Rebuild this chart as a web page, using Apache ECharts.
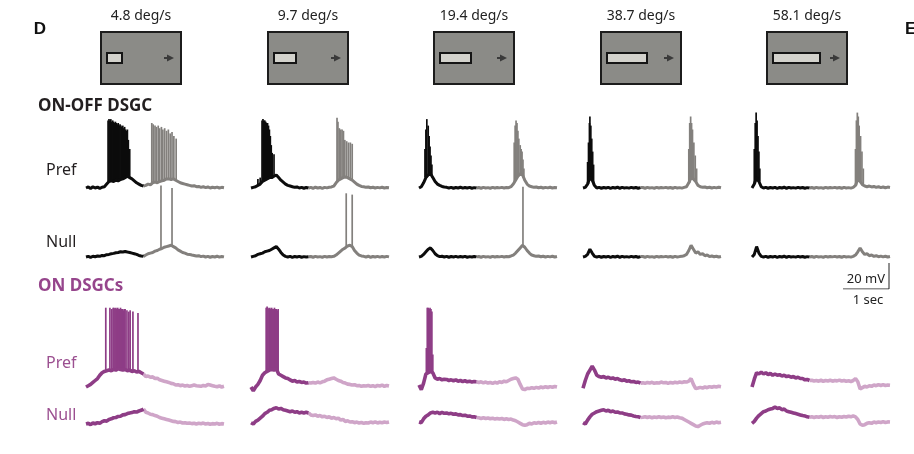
<!DOCTYPE html>
<html>
<head>
<meta charset="utf-8">
<script src="https://cdn.jsdelivr.net/npm/echarts@6/dist/echarts.min.js"></script>
<style>
html, body { margin: 0; background: #fff; }
#chart { width: 914px; height: 454px; }
</style>
</head>
<body>
<div id="chart"></div>
<script>
// stimulus speeds (column titles)
const speeds = ["4.8 deg/s", "9.7 deg/s", "19.4 deg/s", "38.7 deg/s", "58.1 deg/s"];
const groupTitles = ["ON-OFF DSGC", "ON DSGCs"];
const rowLabels = ["Pref", "Null", "Pref", "Null"];

// membrane potential, mV above rest, sampled every 0.05 s from 0 to 3 s
// first 26 samples = first half of the sweep (dark), rest = second half (light)
const tStep = 0.05;
const splitIdx = 25;

// ON-OFF DSGC, preferred direction
const onoffPref1 = [0,0.8,-0.4,0.9,0,0.7,-0.3,0.6,1,3, 5,5.5,5,6,5.5,6.5,7,8,9,8, 7,5.5,4,3,2,1.5, 2,3,2.5,4,4.5,4,5,5.5,6,7, 7,6.5,7,6,5,4,3.5,3,2.5,2, 1.5,1.8,1,1.2,0.5,1,0.3,0.8,0,0.6, 0.2,0.7,0,0.5,0.2];
const onoffPref2 = [0,0.5,1,2,3,5,6,7,8,8, 9,10,8,6,4.5,3,2,1.5,1,0.5, 0.8,0,0.5,-0.2,0.4,0, 0.5,-0.2,0.6,0,0.4,-0.3,0.5,0.1,0.6,0.8, 1.5,4,6,7,8,8.5,8,7,6,4.5, 3,2,1.2,1,0.5,0.8,0.2,0.6,0,0.5, 0.1,0.6,0,0.4,0.2];
const onoffPref3 = [0,1,4,8,10,11,8,5,3,2, 1.2,0.8,0.5,0,0.5,-0.2,0.4,0,0.6,-0.1, 0.4,0,0.5,-0.2,0.3,0, 0.4,-0.2,0.5,0,0.3,-0.2,0.5,0,0.4,0.1, 0.5,0,0.4,0.2,1,3,6,9,11,10, 6,3,1.5,1,0.5,0.8,0.2,0.6,0,0.5, 0.1,0.6,0,0.4,0.2];
const onoffPref4 = [0,0.5,3,8,6,2,0,0.5,-0.2,0.4, 0,0.5,-0.3,0.4,0,0.6,-0.2,0.5,0,0.3, -0.1,0.5,0,0.4,-0.2,0.3, 0.4,-0.2,0.5,0,0.3,-0.2,0.5,0,0.4,0.1, 0.5,0,0.4,-0.2,0.5,0,0.3,-0.1,0.5,1, 4,8,7,5,2,1,0.5,0.8,0.2,0.6, 0,0.5,0.1,0.6,0.2];
const onoffPref5 = [0,3,8,5,1,0,0.5,-0.2,0.4,0, 0.5,-0.3,0.4,0,0.6,-0.2,0.5,0,0.3,-0.1, 0.5,0,0.4,-0.2,0.3,0, 0.4,-0.2,0.5,0,0.3,-0.2,0.5,0,0.4,0.1, 0.5,0,0.4,-0.2,0.5,0,0.3,-0.1,0.5,2, 7,5,2.5,1.5,1,1.5,0.8,1.2,0.5,1, 0.3,0.8,0.2,0.7,0.4];

// ON-OFF DSGC, null direction
const onoffNull1 = [0,0.5,-0.3,0.6,0.2,0.8,0.5,1.2,1,1.8, 2,2.5,2.8,3.3,3.5,4,3.8,4.2,3.8,3.5, 3,2.5,2,1.2,0.8,0.5, 1.5,2.5,3,3.5,4.5,5,6,6.5,7.5,8, 8.5,9,8,7,5.5,4.5,3.5,3,2.2,2, 1.5,1.2,0.8,1,0.3,0.7,0,0.5,-0.2,0.4, 0,0.6,-0.1,0.4,0.1];
const onoffNull2 = [0,0.5,1,2,2.5,3,4,4.5,5,6, 7,8,6,3.5,1.5,0.5,0,0.5,-0.3,0.4, 0,0.5,-0.2,0.3,0,0.2, 0.4,-0.2,0.5,0,0.3,-0.2,0.5,0,0.4,0.2, 0.5,1.5,3,4.5,6,7,8.5,9,8,5, 3,1.5,0.8,0.5,0,0.6,-0.2,0.4,0,0.5, -0.1,0.4,0,0.5,0.1];
const onoffNull3 = [0,0.5,2,4,6,7,5,2.5,1,0.3, 0.6,0,0.5,-0.2,0.4,0,0.5,-0.1,0.4,0, 0.5,-0.2,0.3,0,0.4,0.1, 0.4,-0.2,0.5,0,0.3,-0.2,0.5,0,0.4,0.1, 0.5,0,0.4,0.2,0.8,1.5,3,5,7,9, 7.5,5,3,1.5,1,0.5,0.8,0.2,0.6,0, 0.5,0.1,0.6,0,0.4];
const onoffNull4 = [0,0.5,2,6,3,0.5,0,0.5,-0.2,0.4, 0,0.5,-0.3,0.4,0,0.6,-0.2,0.5,0,0.3, -0.1,0.5,0,0.4,-0.2,0.3, 0.4,-0.2,0.5,0,0.3,-0.2,0.5,0,0.4,0.1, 0.5,0,0.4,-0.2,0.5,0,0.3,0.5,1,2, 5,9,6,3,4,2,2.5,1,1.5,0.3, 0.8,0.2,0.6,0,0.4];
const onoffNull5 = [0,2,8,3,0.5,0,0.5,-0.2,0.4,0, 0.5,-0.3,0.4,0,0.6,-0.2,0.5,0,0.3,-0.1, 0.5,0,0.4,-0.2,0.3,0, 0.4,-0.2,0.5,0,0.3,-0.2,0.5,0,0.4,0.1, 0.5,0,0.4,-0.2,0.5,0,0.3,-0.1,0.5,1.5, 4,7,4,2,2.5,1,1.5,0.5,1,0.2, 0.7,0.1,0.6,0,0.4];

// ON DSGCs, preferred direction
const onPref1 = [0,1,2,3.5,5,6.5,9,11,12,12.5, 13,12.5,13.5,13,14,13.5,13,13.5,12.5,13, 12,12.5,11.5,12,11,10, 8,8.5,7.5,7.8,6.5,6.8,5.5,5,4.5,4, 3.5,2.8,2.5,1.5,1.8,1,1.5,0.8,1.2,0.5, 1,1.5,1,0.8,0.5,1.2,0.8,2,1.5,1, 0.5,0.2,0.8,0,0.5];
const onPref2 = [0,-3,0,2,5,9,11,12,13,13.5, 13,14,10,9,8,7,6.5,5.5,4.5,5, 3.8,4.2,3.5,3.8,3,3.3, 3,3.5,3,3.8,3.2,4,4.5,5.5,6,6.5, 7,6,5,4.5,3.5,3,2.2,2,1.5,1.8, 1,1.2,0.5,1,0.8,1.2,0.5,1,0.3,1.2, 0.8,1.5,0.5,1.2,0.8];
const onPref3 = [1.5,-2,3,10,11,12,11,7,6,6.5, 5.5,6,5.8,5,5.5,4.8,5.5,4.5,5,4.2, 4.8,4,4.5,3.8,4.2,4, 3.5,4,3.2,3.8,3,3.5,2.8,3.6,3,4, 3.5,4.5,4,5,6,6.5,7,6,2,-1.5, -2,-1,-1.2,-0.5,-1,-0.3,-0.8,0,-0.5,0.2, -0.4,0.3,-0.2,0.4,0];
const onPref4 = [-1,5,10,13,16,13,9,8,7.5,8, 7,7.5,6.5,7,6,6.5,5.5,5,5.5,4.5, 4.8,4,4.2,3.5,3.8,3, 3.2,2.8,3.5,3,3.6,2.8,3.3,3,3.8,3.2, 3.5,2.8,3.5,3,3.6,3.2,3.8,3.4,4,3.8, 4.5,6.5,2,-1.2,-0.8,-0.3,-0.8,0,-0.5,0.3, -0.2,0.4,0,0.5,0.2];
const onPref5 = [0,6,11,10,11.5,10,11,9.5,10.5,9, 10,9,9.5,8.5,9,8,8.5,7.5,8,7, 7.5,6.5,6.5,5.5,5.8,5, 5.2,4.6,5,4.5,5.2,4.4,5,4.6,5.2,4.5, 5,4.7,5.3,4.6,5,4.4,4.8,4.2,5,6.5, 4,-1.5,-0.5,0.5,0,1,0.5,1.5,1,1.8, 1.2,1.8,1.2,1.6,1.4];

// ON DSGCs, null direction
const onNull1 = [0,0.5,-0.5,0.8,0.2,1,0.5,1.8,2.5,2.2, 3.5,4,4.8,5,5.8,6,7,7.2,8,8.5, 8.8,9.5,9.2,10,10.5,11.5, 9,8.5,7.5,7.2,6.5,6,5,4.5,4,3.5, 3,2.5,2,1.8,1.2,1.5,0.8,1,0.5,0.8, 0.3,0.6,0,0.5,0.2,0.7,0,0.4,-0.2,0.3, 0,0.5,-0.2,0.3,0];
const onNull2 = [1,0,2,3,4.5,6,8,9,10.5,11, 12,12.5,11.5,12,11,10.5,10,9.5,10,9, 9.5,8.5,9,8.5,9,8.5, 7,6.5,7,6,6.5,5.5,6,5,5.5,4.5, 5,4,4.5,3,3.5,2,2.5,1.5,1.8,1, 1.5,0.8,1.2,0.5,1,0.8,1.5,1,1.6,0.8, 1.4,1,1.5,1.2,1.6];
const onNull3 = [1.5,1,4,6,7,8.5,9,8.5,9,8, 9,8.2,8.5,7.8,8.2,7.5,7.8,7,7.2,6.5, 6.8,6,6.2,5.5,5.5,5, 4.8,4.3,4.8,4.2,4.6,4,4.5,3.8,4.3,3.8, 4.2,3.5,4,3.5,3.8,3,2.5,1.5,0.5,-0.5, -1,-0.5,0.5,0,1,0.5,1.2,0.6,1.3,0.8, 1.5,1,1.6,1,1.5];
const onNull4 = [1,0,3,5.5,7.5,8.5,9.5,10,10.5,11, 10,10.5,9.5,10,9,9.2,8.5,8.5,7.8,7.5, 7,6.8,6.2,5.8,5.5,5, 5.2,5.6,5,5.5,4.8,5.4,5,5.6,5,5.4, 4.8,5.3,5,5.5,5,5.4,4.8,4.5,3.5,2.5, 1.5,0.5,-0.5,-1.5,-2,-1,0,0.5,1,0.6, 1.3,0.8,1.5,1,1.3];
const onNull5 = [0.5,2,4.5,6.5,8,9.5,10,11,11.5,12, 13,12,12.5,11,11.5,10,9.5,9,8.5,8, 7.5,7,6.5,6.2,5.5,5.2, 5.5,5,5.6,5.2,5.8,5,5.5,5.2,5.8,5.3, 5.7,5,5.6,5.2,5.8,5.4,6,5.5,6.2,5.5, 3.5,0,-1,-0.5,0.5,1,0.5,1.5,1,1.6, 1.2,1.8,1.2,1.6,1.5];

// action potentials: [time s, peak mV]
const onoffPref1Spikes = [[0.48,52],[0.5,53],[0.52,52],[0.54,53],[0.56,51],[0.58,52],[0.6,51],[0.62,50],[0.64,51],[0.66,50],[0.68,49],[0.7,50],[0.72,48],[0.74,49],[0.76,48],[0.78,47],[0.8,48],[0.82,46],[0.84,47],[0.86,45],[0.88,44],[0.9,45],[0.92,37],[0.95,30],
  [1.43,50],[1.46,49],[1.5,48],[1.53,47],[1.57,48],[1.6,46],[1.64,47],[1.67,45],[1.71,46],[1.75,44],[1.79,45],[1.83,42],[1.87,43],[1.91,40],[1.96,38]];
const onoffPref2Spikes = [[0.15,7],[0.2,8],[0.24,52],[0.26,53],[0.28,52],[0.3,52],[0.32,51],[0.34,50],[0.36,50],[0.38,48],[0.4,45],[0.42,40],[0.44,33],[0.46,27],[0.5,26],
  [1.87,54],[1.89,51],[1.92,46],[1.95,45],[1.98,45],[2.01,44],[2.04,37],[2.08,36],[2.12,35],[2.16,35],[2.2,34]];
const onoffPref3Spikes = [[0.13,30],[0.15,45],[0.17,53],[0.2,48],[0.22,40],[0.24,32],[0.26,25],[0.28,18],
  [2.07,35],[2.09,48],[2.11,52],[2.13,50],[2.15,44],[2.17,38],[2.2,33],[2.22,30],[2.24,28],[2.26,22],[2.28,15]];
const onoffPref4Spikes = [[0.1,20],[0.12,35],[0.14,50],[0.15,55],[0.17,48],[0.19,38],[0.21,28],[0.23,18],
  [2.3,30],[2.32,50],[2.34,55],[2.36,50],[2.38,45],[2.41,35],[2.44,25],[2.47,15]];
const onoffPref5Spikes = [[0.05,30],[0.07,50],[0.09,58],[0.11,52],[0.13,40],[0.15,28],[0.17,15],
  [2.25,30],[2.27,52],[2.29,58],[2.31,55],[2.33,48],[2.36,40],[2.39,28],[2.42,15]];
const onoffNull1Spikes = [[1.63,55],[1.87,53]];
const onoffNull2Spikes = [[2.07,49],[2.2,48]];
const onoffNull3Spikes = [[2.26,54]];
const onPref1Spikes = [[0.43,61],[0.52,61],[0.56,60],[0.59,61],[0.61,61],[0.63,60],[0.65,61],[0.67,60],[0.69,61],[0.71,60],[0.73,60],[0.75,61],[0.77,60],[0.79,60],[0.81,59],[0.83,60],[0.85,60],[0.89,59],[0.93,58],[0.96,59],[1.02,58],[1.13,57]];
const onPref2Spikes = [[0.33,61],[0.35,62],[0.37,61],[0.39,60],[0.41,61],[0.43,60],[0.45,61],[0.47,60],[0.49,60],[0.51,61],[0.53,60],[0.55,60],[0.57,59],[0.59,60]];
const onPref3Spikes = [[0.16,30],[0.18,61],[0.2,61],[0.22,60],[0.24,61],[0.26,60],[0.28,58],[0.3,25]];

// scale bar
const scaleSec = 1;
const scaleMv = 20;

const traces = [
  [onoffPref1, onoffPref2, onoffPref3, onoffPref4, onoffPref5],
  [onoffNull1, onoffNull2, onoffNull3, onoffNull4, onoffNull5],
  [onPref1, onPref2, onPref3, onPref4, onPref5],
  [onNull1, onNull2, onNull3, onNull4, onNull5]
];
const spikes = [
  [onoffPref1Spikes, onoffPref2Spikes, onoffPref3Spikes, onoffPref4Spikes, onoffPref5Spikes],
  [onoffNull1Spikes, onoffNull2Spikes, onoffNull3Spikes, [], []],
  [onPref1Spikes, onPref2Spikes, onPref3Spikes, [], []],
  [[], [], [], [], []]
];

// layout (pixels)
const PX_S = 46;      // px per second
const PX_MV = 1.3;    // px per mV
const colLeft = [86, 251, 419, 583, 752];
const rowBase = [188, 257, 387, 424];
const rowRange = [[-5, 60], [-5, 60], [-5, 66], [-5, 16]];
const rowColors = [
  ["#0c0c0c", "#83807d"],
  ["#0c0c0c", "#83807d"],
  ["#8e3d86", "#cfa5c8"],
  ["#8e3d86", "#cfa5c8"]
];
const rowWidth = [3, 3, 3.6, 3.6];
const boxLeft = [101, 268, 434, 601, 767];
const barLen = [15, 22, 31, 40, 47];

const grid = [], xAxis = [], yAxis = [], series = [];
let g = 0;
traces.forEach((row, r) => {
  const [lo, hi] = rowRange[r];
  row.forEach((base, c) => {
    grid.push({
      left: colLeft[c], top: rowBase[r] - hi * PX_MV,
      width: 3 * PX_S, height: (hi - lo) * PX_MV
    });
    xAxis.push({ type: "value", gridIndex: g, min: 0, max: 3, show: false });
    yAxis.push({ type: "value", gridIndex: g, min: lo, max: hi, show: false });
    const pts = base.map((v, i) => [Math.round(i * tStep * 100) / 100, v]);
    const lineCommon = {
      type: "line", xAxisIndex: g, yAxisIndex: g, showSymbol: false,
      silent: true, animation: false
    };
    series.push(Object.assign({}, lineCommon, {
      data: pts.slice(splitIdx),
      lineStyle: { color: rowColors[r][1], width: rowWidth[r] }
    }));
    series.push(Object.assign({}, lineCommon, {
      data: pts.slice(0, splitIdx + 1),
      lineStyle: { color: rowColors[r][0], width: rowWidth[r] }
    }));
    const sp = spikes[r][c];
    if (sp.length) {
      const dark = rowColors[r][0], light = rowColors[r][1];
      series.push({
        type: "custom", xAxisIndex: g, yAxisIndex: g, silent: true, animation: false,
        data: sp.map(([t, p]) => [t, base[Math.round(t / tStep)], p]),
        encode: { x: 0, y: [1, 2] },
        renderItem: function (params, api) {
          const a = api.coord([api.value(0), api.value(1)]);
          const b = api.coord([api.value(0), api.value(2)]);
          return {
            type: "line",
            shape: { x1: a[0], y1: a[1], x2: b[0], y2: b[1] },
            style: { stroke: api.value(0) < splitIdx * tStep ? dark : light, lineWidth: 1.7 }
          };
        }
      });
    }
    g++;
  });
});

// scale bar grid, same px per unit as the traces
grid.push({ left: 889 - scaleSec * PX_S, top: 289 - scaleMv * PX_MV, width: scaleSec * PX_S, height: scaleMv * PX_MV });
xAxis.push({ type: "value", gridIndex: g, min: 0, max: scaleSec, show: false });
yAxis.push({ type: "value", gridIndex: g, min: 0, max: scaleMv, show: false });
series.push({
  type: "line", xAxisIndex: g, yAxisIndex: g, showSymbol: false, silent: true, animation: false,
  data: [[0, 0], [scaleSec, 0], [scaleSec, scaleMv]],
  lineStyle: { color: "#222", width: 1 }
});

const FONT = '"Noto Sans", "Open Sans", sans-serif';
const graphic = [];
// panel letters
graphic.push({ type: "text", x: 40, y: 29, style: { text: "D", font: 'bold 17px "Liberation Sans", Arial, sans-serif', fill: "#111", textAlign: "center", textVerticalAlign: "middle" } });
graphic.push({ type: "text", x: 905, y: 29, style: { text: "E", font: 'bold 17px "Liberation Sans", Arial, sans-serif', fill: "#111", textAlign: "left", textVerticalAlign: "middle" } });

// stimulus icons
speeds.forEach((s, c) => {
  const x0 = boxLeft[c];
  graphic.push({ type: "text", x: x0 + 40, y: 16, style: { text: s, font: "14px " + FONT, fill: "#222", textAlign: "center", textVerticalAlign: "middle" } });
  graphic.push({ type: "rect", shape: { x: x0, y: 32, width: 80, height: 52 }, style: { fill: "#8b8b87", stroke: "#1c1c1c", lineWidth: 2 } });
  graphic.push({ type: "rect", shape: { x: x0 + 6, y: 53, width: barLen[c], height: 10 }, style: { fill: "#d3d2cc", stroke: "#151515", lineWidth: 2 } });
  graphic.push({ type: "line", shape: { x1: x0 + 63, y1: 58, x2: x0 + 68, y2: 58 }, style: { stroke: "#3a3a3a", lineWidth: 2 } });
  graphic.push({ type: "polygon", shape: { points: [[x0 + 66, 54.5], [x0 + 73, 58], [x0 + 66, 61.5]] }, style: { fill: "#3a3a3a" } });
});

// group titles and row labels
graphic.push({ type: "text", x: 38, y: 106, style: { text: groupTitles[0], font: "bold 17px " + FONT, fill: "#231f20", textAlign: "left", textVerticalAlign: "middle" } });
graphic.push({ type: "text", x: 38, y: 286, style: { text: groupTitles[1], font: "bold 17px " + FONT, fill: "#96458c", textAlign: "left", textVerticalAlign: "middle" } });
const labelY = [170, 242, 363, 415];
const labelColor = ["#231f20", "#231f20", "#9b4f90", "#9b4f90"];
rowLabels.forEach((l, r) => {
  graphic.push({ type: "text", x: 46, y: labelY[r], style: { text: l, font: "16px " + FONT, fill: labelColor[r], textAlign: "left", textVerticalAlign: "middle" } });
});

// scale bar labels
graphic.push({ type: "text", x: 885, y: 279, style: { text: scaleMv + " mV", font: "13px " + FONT, fill: "#222", textAlign: "right", textVerticalAlign: "middle" } });
graphic.push({ type: "text", x: 868, y: 300, style: { text: scaleSec + " sec", font: "13px " + FONT, fill: "#222", textAlign: "center", textVerticalAlign: "middle" } });

const chart = echarts.init(document.getElementById("chart"), null, { renderer: "canvas" });
chart.setOption({
  backgroundColor: "#fff",
  animation: false,
  grid: grid,
  xAxis: xAxis,
  yAxis: yAxis,
  series: series,
  graphic: graphic
});
window.addEventListener("resize", function () { chart.resize(); });
</script>
</body>
</html>
